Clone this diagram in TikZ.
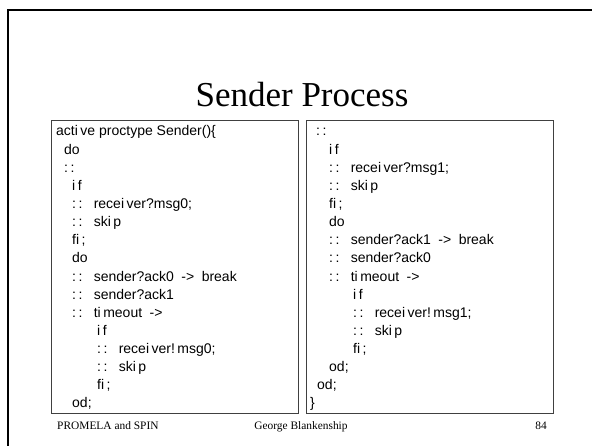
\documentclass[tikz,border=0pt]{standalone}
\usepackage{fontspec}
\setmainfont{Liberation Serif}
\newfontfamily\codefont{Liberation Sans}
% narrow characters in the listings get a little extra room after them
\newXeTeXintercharclass\narrowclass
\XeTeXcharclass`i=\narrowclass
\XeTeXcharclass`:=\narrowclass
\XeTeXcharclass`;=\narrowclass
\XeTeXcharclass`!=\narrowclass
\XeTeXinterchartoks\narrowclass 0 = {\kern2.5pt\relax}
\XeTeXinterchartoks\narrowclass\narrowclass = {\kern2.5pt\relax}
\XeTeXinterchartoks\narrowclass 4095 = {\kern2.5pt\relax}
\newcommand\codesetup{\codefont\fontsize{14}{16}\selectfont
  \XeTeXinterchartokenstate=1 \spaceskip=7.5pt\relax}
% same listing font, ordinary word spaces
\newcommand\plainsetup{\codesetup\spaceskip=0pt\relax}
\begin{document}
\begin{tikzpicture}[x=1pt,y=-1pt,
  code/.style={anchor=base west,inner sep=0pt,font=\codesetup},
  plaincode/.style={anchor=base west,inner sep=0pt,font=\plainsetup},
  foot/.style={anchor=base,inner sep=0pt,font=\fontsize{11.4}{13}\selectfont},
  listbox/.style={draw=black!75,line width=1pt},
  slideframe/.style={line width=2pt,black}]
\useasboundingbox (0,0) rectangle (592,446);
\fill[white] (0,0) rectangle (592,446);
% slide frame (only the left and top edges fall inside the page)
\draw[slideframe] (8,447) -- (8,10) -- (593,10);
% title
\node[anchor=base,inner sep=0pt,font=\fontsize{35}{40}\selectfont] (title) at (302,107) {Sender Process};
% listing boxes
\draw[listbox] (51,121) rectangle (298,413);
\draw[listbox] (306,121) rectangle (553,413);
% left listing
\def\ls{18.13}
\node[plaincode] (l1)  at (56,136) {active proctype Sender()\{};
\node[code] (l2)  at (64,136+1*\ls) {do};
\node[code] (l3)  at (64,136+2*\ls) {::};
\node[code] (l4)  at (72,136+3*\ls) {if};
\node[code] (l5)  at (72,136+4*\ls) {:: receiver?msg0;};
\node[code] (l6)  at (72,136+5*\ls) {:: skip};
\node[code] (l7)  at (72,136+6*\ls) {fi;};
\node[code] (l8)  at (72,136+7*\ls) {do};
\node[code] (l9)  at (72,136+8*\ls) {:: sender?ack0 -> break};
\node[code] (l10) at (72,136+9*\ls) {:: sender?ack1};
\node[code] (l11) at (72,136+10*\ls) {:: timeout ->};
\node[code] (l12) at (97,136+11*\ls) {if};
\node[code] (l13) at (97,136+12*\ls) {:: receiver!msg0;};
\node[code] (l14) at (97,136+13*\ls) {:: skip};
\node[code] (l15) at (97,136+14*\ls) {fi;};
\node[code] (l16) at (72,136+15*\ls) {od;};
% right listing
\node[code] (r1)  at (316,136) {::};
\node[code] (r2)  at (329,136+1*\ls) {if};
\node[code] (r3)  at (329,136+2*\ls) {:: receiver?msg1;};
\node[code] (r4)  at (329,136+3*\ls) {:: skip};
\node[code] (r5)  at (329,136+4*\ls) {fi;};
\node[code] (r6)  at (329,136+5*\ls) {do};
\node[code] (r7)  at (329,136+6*\ls) {:: sender?ack1 -> break};
\node[code] (r8)  at (329,136+7*\ls) {:: sender?ack0};
\node[code] (r9)  at (329,136+8*\ls) {:: timeout ->};
\node[code] (r10) at (353,136+9*\ls) {if};
\node[code] (r11) at (353,136+10*\ls) {:: receiver!msg1;};
\node[code] (r12) at (353,136+11*\ls) {:: skip};
\node[code] (r13) at (353,136+12*\ls) {fi;};
\node[code] (r14) at (329,136+13*\ls) {od;};
\node[code] (r15) at (317,136+14*\ls) {od;};
\node[code] (r16) at (310,136+15*\ls) {\}};
% footer
\node[foot,anchor=base west] (f1) at (57,429) {PROMELA and SPIN};
\node[foot] (f2) at (301,429) {George Blankenship};
\node[foot,anchor=base east] (f3) at (547,429) {84};
\end{tikzpicture}
\end{document}
